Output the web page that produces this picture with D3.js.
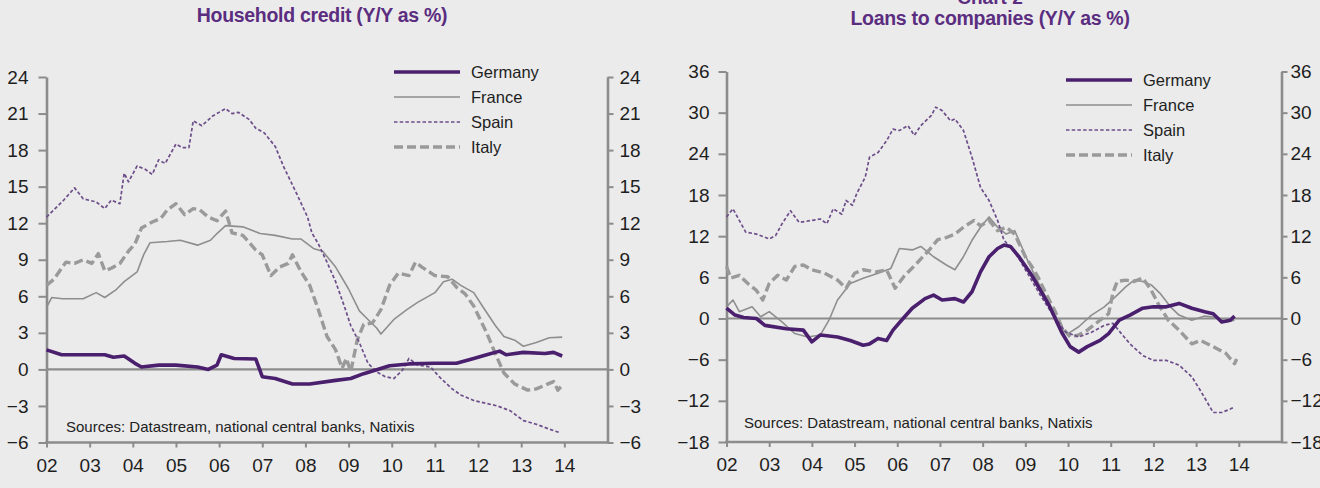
<!DOCTYPE html>
<html>
<head>
<meta charset="utf-8">
<script src="https://cdn.jsdelivr.net/npm/d3@7"></script>
<style>
  html, body { margin: 0; padding: 0; background: #ebebeb; }
  svg { display: block; font-family: "Liberation Sans", Arial, sans-serif; }
</style>
</head>
<body>
<div id="chart"></div>
<script>
// ---- data ----
let countries = ['Germany', 'France', 'Spain', 'Italy']
let yearTicks = d3.range(2002, 2015)
let hhTicks = d3.range(-6, 25, 3)
let coTicks = d3.range(-18, 37, 6)

// Household credit, Y/Y %  [year, value]
let hhGermany = [[2002.0,1.6],[2002.35,1.2],[2003.0,1.2],[2003.35,1.2],[2003.55,1.0],[2003.8,1.1],[2004.05,0.5],[2004.2,0.2],[2004.6,0.35],[2005.0,0.35],[2005.5,0.2],[2005.75,0.0],[2005.95,0.35],[2006.05,1.2],[2006.35,0.9],[2006.85,0.85],[2007.0,-0.6],[2007.3,-0.75],[2007.7,-1.2],[2008.1,-1.2],[2008.7,-0.9],[2009.05,-0.75],[2009.35,-0.35],[2009.95,0.3],[2010.4,0.45],[2011.0,0.5],[2011.5,0.5],[2011.9,0.9],[2012.2,1.2],[2012.5,1.5],[2012.65,1.2],[2013.05,1.4],[2013.55,1.3],[2013.75,1.4],[2013.95,1.1]]
let hhFrance = [[2002.0,5.1],[2002.12,5.9],[2002.37,5.8],[2002.85,5.8],[2003.15,6.3],[2003.35,5.9],[2003.6,6.5],[2003.8,7.2],[2004.1,8.0],[2004.25,9.4],[2004.4,10.4],[2004.8,10.5],[2005.1,10.6],[2005.5,10.2],[2005.8,10.6],[2005.95,11.15],[2006.15,11.8],[2006.55,11.7],[2006.95,11.15],[2007.3,11.0],[2007.7,10.7],[2007.9,10.7],[2008.2,9.9],[2008.4,9.7],[2008.7,8.4],[2009.0,6.6],[2009.25,4.8],[2009.45,4.1],[2009.65,3.4],[2009.75,2.9],[2010.05,4.1],[2010.35,4.9],[2010.6,5.5],[2011.0,6.3],[2011.2,7.2],[2011.4,7.4],[2011.6,6.9],[2011.9,6.3],[2012.1,5.2],[2012.4,3.6],[2012.6,2.7],[2012.85,2.4],[2013.05,1.9],[2013.35,2.2],[2013.65,2.6],[2013.95,2.65]]
let hhSpain = [[2002.0,12.5],[2002.4,13.9],[2002.65,14.9],[2002.85,14.0],[2003.15,13.75],[2003.35,13.2],[2003.5,13.9],[2003.7,13.6],[2003.8,16.1],[2003.9,15.4],[2004.1,16.7],[2004.3,16.4],[2004.45,16.0],[2004.6,17.2],[2004.75,16.9],[2005.0,18.5],[2005.15,18.2],[2005.3,18.2],[2005.4,20.4],[2005.6,20.0],[2005.85,20.8],[2006.15,21.4],[2006.3,21.0],[2006.45,21.1],[2006.7,20.5],[2006.85,19.8],[2007.05,19.4],[2007.3,18.3],[2007.5,16.6],[2007.8,14.4],[2008.05,12.5],[2008.15,11.2],[2008.3,10.3],[2008.5,8.8],[2008.7,7.2],[2008.9,5.2],[2009.05,3.6],[2009.25,2.2],[2009.45,0.5],[2009.65,-0.2],[2009.85,-0.6],[2010.05,-0.75],[2010.25,-0.05],[2010.4,0.9],[2010.6,0.35],[2010.9,0.2],[2011.1,-0.6],[2011.4,-1.6],[2011.6,-2.1],[2011.9,-2.55],[2012.2,-2.8],[2012.45,-3.0],[2012.75,-3.4],[2013.05,-4.2],[2013.35,-4.5],[2013.65,-4.9],[2013.9,-5.2]]
let hhItaly = [[2002.0,6.9],[2002.17,7.4],[2002.45,8.8],[2002.65,8.7],[2002.85,9.0],[2003.05,8.7],[2003.2,9.5],[2003.35,8.1],[2003.5,8.3],[2003.7,8.7],[2003.9,9.7],[2004.05,10.3],[2004.2,11.6],[2004.45,12.1],[2004.65,12.4],[2004.8,13.1],[2005.0,13.6],[2005.2,12.7],[2005.4,13.2],[2005.55,13.1],[2005.75,12.5],[2005.95,12.2],[2006.15,13.0],[2006.3,11.2],[2006.55,11.0],[2006.85,9.8],[2007.0,9.4],[2007.2,7.7],[2007.4,8.4],[2007.6,8.7],[2007.7,9.4],[2007.9,8.0],[2008.1,6.9],[2008.3,4.9],[2008.5,2.7],[2008.7,1.6],[2008.85,0.1],[2008.95,0.9],[2009.05,-0.2],[2009.2,2.4],[2009.35,3.7],[2009.55,3.8],[2009.75,4.9],[2009.95,6.9],[2010.15,7.9],[2010.4,7.7],[2010.55,8.8],[2010.7,8.4],[2011.0,7.7],[2011.3,7.6],[2011.5,6.75],[2011.7,6.2],[2011.9,5.2],[2012.2,3.0],[2012.4,1.3],[2012.6,-0.3],[2012.85,-1.2],[2013.15,-1.7],[2013.35,-1.6],[2013.55,-1.3],[2013.75,-1.0],[2013.85,-1.7],[2013.95,-1.3]]

// Loans to companies, Y/Y %  [year, value]
let coGermany = [[2002.0,1.5],[2002.2,0.5],[2002.4,0.15],[2002.7,0.0],[2002.9,-1.0],[2003.4,-1.5],[2003.8,-1.7],[2004.0,-3.4],[2004.2,-2.4],[2004.6,-2.7],[2004.9,-3.2],[2005.2,-3.9],[2005.35,-3.7],[2005.55,-2.9],[2005.75,-3.2],[2005.9,-1.7],[2006.1,-0.25],[2006.35,1.5],[2006.65,2.9],[2006.85,3.4],[2007.05,2.7],[2007.35,2.9],[2007.55,2.4],[2007.75,3.9],[2007.95,6.8],[2008.15,9.0],[2008.35,10.2],[2008.5,10.7],[2008.65,10.5],[2008.85,9.0],[2009.15,6.3],[2009.55,2.0],[2009.85,-2.0],[2010.05,-4.1],[2010.25,-4.9],[2010.45,-4.1],[2010.75,-3.2],[2010.95,-2.2],[2011.2,-0.25],[2011.45,0.5],[2011.75,1.5],[2012.0,1.7],[2012.3,1.7],[2012.6,2.2],[2012.9,1.5],[2013.2,1.0],[2013.4,0.7],[2013.6,-0.5],[2013.8,-0.25],[2013.9,0.35]]
let coFrance = [[2002.0,1.7],[2002.15,2.7],[2002.3,1.0],[2002.6,1.7],[2002.8,0.25],[2003.0,1.0],[2003.3,-0.5],[2003.6,-2.2],[2003.9,-2.7],[2004.2,-2.4],[2004.4,-0.25],[2004.6,2.7],[2004.9,5.1],[2005.2,5.85],[2005.55,6.6],[2005.85,7.3],[2006.05,10.2],[2006.35,10.0],[2006.55,10.5],[2006.85,9.0],[2007.15,7.8],[2007.35,7.1],[2007.55,9.0],[2007.75,11.4],[2007.95,13.3],[2008.15,14.8],[2008.35,13.3],[2008.55,12.3],[2008.75,12.8],[2008.85,11.4],[2009.05,8.5],[2009.35,4.6],[2009.65,1.2],[2009.85,-1.5],[2010.0,-2.2],[2010.25,-1.2],[2010.55,0.5],[2010.85,1.7],[2011.15,3.4],[2011.35,4.6],[2011.55,5.6],[2011.75,5.4],[2011.95,4.9],[2012.15,3.7],[2012.4,1.7],[2012.6,0.5],[2012.9,-0.25],[2013.2,0.35],[2013.5,0.15],[2013.7,-0.5],[2013.9,-0.25]]
let coSpain = [[2002.0,14.8],[2002.15,16.0],[2002.3,14.3],[2002.45,12.6],[2002.7,12.3],[2003.0,11.6],[2003.15,12.1],[2003.3,13.8],[2003.5,15.7],[2003.7,14.0],[2004.0,14.3],[2004.2,14.5],[2004.35,13.8],[2004.5,16.0],[2004.7,15.2],[2004.8,17.2],[2004.95,16.5],[2005.05,18.2],[2005.25,20.6],[2005.35,23.5],[2005.55,24.2],[2005.75,25.9],[2005.9,27.6],[2006.05,27.4],[2006.25,28.1],[2006.4,26.7],[2006.55,28.1],[2006.8,29.6],[2006.9,30.8],[2007.05,30.3],[2007.25,28.8],[2007.35,29.1],[2007.55,27.4],[2007.75,23.5],[2007.95,19.1],[2008.15,17.2],[2008.35,14.3],[2008.5,11.4],[2008.75,9.8],[2009.05,6.6],[2009.35,3.4],[2009.65,0.5],[2009.95,-2.0],[2010.25,-2.7],[2010.55,-2.0],[2010.85,-1.0],[2011.05,-0.7],[2011.25,-2.2],[2011.45,-3.7],[2011.75,-5.4],[2012.0,-6.1],[2012.3,-6.1],[2012.6,-6.8],[2012.9,-8.5],[2013.1,-10.5],[2013.4,-13.7],[2013.6,-13.7],[2013.8,-13.2],[2013.9,-12.9]]
let coItaly = [[2002.0,7.6],[2002.1,5.9],[2002.3,6.3],[2002.5,5.1],[2002.7,4.1],[2002.85,2.7],[2003.0,5.1],[2003.2,6.3],[2003.4,5.6],[2003.6,7.6],[2003.8,7.8],[2004.0,7.1],[2004.3,6.6],[2004.6,5.6],[2004.8,4.4],[2005.0,6.6],[2005.2,7.1],[2005.5,6.8],[2005.75,7.1],[2005.95,4.4],[2006.15,6.1],[2006.45,8.0],[2006.75,10.0],[2006.95,11.5],[2007.15,11.8],[2007.35,12.3],[2007.55,13.3],[2007.8,14.3],[2007.95,13.5],[2008.15,14.3],[2008.35,12.8],[2008.55,13.3],[2008.75,12.3],[2009.0,9.0],[2009.15,7.6],[2009.3,6.0],[2009.5,3.4],[2009.7,1.0],[2009.85,-1.2],[2010.05,-2.7],[2010.25,-2.4],[2010.45,-1.7],[2010.75,-0.25],[2010.95,0.7],[2011.05,3.7],[2011.15,5.4],[2011.35,5.6],[2011.55,5.4],[2011.75,5.9],[2011.95,4.1],[2012.15,1.7],[2012.35,-0.25],[2012.6,-1.7],[2012.9,-3.7],[2013.1,-3.2],[2013.4,-4.1],[2013.7,-5.1],[2013.9,-6.6],[2013.95,-5.9]]

// ---- styles ----
let styles = {
  Germany: { stroke: '#4a1f6e', width: 3.6, dash: null },
  France: { stroke: '#8e8e8e', width: 1.6, dash: null },
  Spain: { stroke: '#6e4e8a', width: 1.7, dash: '3.5,2.2' },
  Italy: { stroke: '#9a9a9a', width: 3.4, dash: '9,4' }
}
let axisColor = '#8c8c8c'
let titleColor = '#5b2d80'

let width = 1320, height = 488
let svg = d3.select('#chart').append('svg')
  .attr('width', width)
  .attr('height', height)

svg.append('rect').attr('width', width).attr('height', height).attr('fill', '#ebebeb')

let drawPanel = (cfg) => {
  let x = d3.scaleLinear().domain([2002, 2015]).range([cfg.left, cfg.right])
  let y = d3.scaleLinear().domain(cfg.domain).range([cfg.bottom, cfg.top])
  let g = svg.append('g')

  // titles
  if (cfg.chartNo) {
    g.append('text')
      .attr('x', cfg.titleX).attr('y', cfg.titleY - 21)
      .attr('text-anchor', 'middle')
      .attr('font-size', 19).attr('font-weight', 'bold')
      .attr('fill', titleColor)
      .text(cfg.chartNo)
  }
  g.append('text')
    .attr('x', cfg.titleX).attr('y', cfg.titleY)
    .attr('text-anchor', 'middle')
    .attr('font-size', 19.5).attr('font-weight', 'bold')
    .attr('letter-spacing', -0.3)
    .attr('fill', titleColor)
    .text(cfg.title)

  // zero line
  g.append('line')
    .attr('x1', cfg.left).attr('x2', cfg.right)
    .attr('y1', y(0)).attr('y2', y(0))
    .attr('stroke', axisColor).attr('stroke-width', 2.2)

  // axes
  let yl = g.append('g')
    .attr('transform', `translate(${cfg.left},0)`)
    .call(d3.axisLeft(y).tickValues(cfg.ticks).tickSize(8).tickSizeOuter(0).tickPadding(cfg.padL))
  let yr = g.append('g')
    .attr('transform', `translate(${cfg.right},0)`)
    .call(d3.axisRight(y).tickValues(cfg.ticks).tickSize(6).tickSizeOuter(0).tickPadding(cfg.padR))
  let xa = g.append('g')
    .attr('transform', `translate(0,${cfg.bottom})`)
    .call(d3.axisBottom(x).tickValues(yearTicks).tickSize(5).tickSizeOuter(0).tickPadding(11)
      .tickFormat(d => d3.format('02d')(d % 100)))

  ;[yl, yr, xa].forEach(a => {
    a.select('.domain').attr('stroke', axisColor).attr('stroke-width', 2.6)
    a.selectAll('.tick line').attr('stroke', axisColor).attr('stroke-width', 2)
    a.selectAll('text').attr('font-size', 19).attr('fill', '#1e1e1e')
      .attr('font-family', '"Liberation Sans", Arial, sans-serif')
  })
  // draw the bottom axis across the full plot
  xa.select('.domain').attr('d', `M${cfg.left - 1.3},0H${cfg.right + 1.3}`)

  // sources
  g.append('text')
    .attr('x', cfg.srcX).attr('y', cfg.srcY)
    .attr('font-size', 15)
    .attr('fill', '#222')
    .text('Sources: Datastream, national central banks, Natixis')

  // lines
  let line = d3.line().x(d => x(d[0])).y(d => y(d[1]))
  let order = ['France', 'Italy', 'Spain', 'Germany']
  order.forEach(name => {
    let s = styles[name]
    g.append('path')
      .datum(cfg.series[name])
      .attr('fill', 'none')
      .attr('stroke', s.stroke)
      .attr('stroke-width', s.width)
      .attr('stroke-dasharray', s.dash)
      .attr('stroke-linejoin', 'round')
      .attr('d', line)
  })

  // legend
  let leg = g.append('g').attr('transform', `translate(${cfg.legX},${cfg.legY})`)
  let rows = leg.selectAll('g').data(countries).enter().append('g')
    .attr('transform', (d, i) => `translate(0,${i * cfg.legStep})`)
  rows.append('line')
    .attr('x1', 0).attr('x2', 66)
    .attr('stroke', d => styles[d].stroke)
    .attr('stroke-width', d => styles[d].width)
    .attr('stroke-dasharray', d => styles[d].dash)
  rows.append('text')
    .attr('x', 77).attr('dy', '0.35em')
    .attr('font-size', 16.5)
    .attr('fill', '#1e1e1e')
    .text(d => d)
}

drawPanel({
  title: 'Household credit (Y/Y as %)',
  titleX: 322, titleY: 22,
  left: 46.5, right: 607.5, top: 77, bottom: 442.5,
  domain: [-6, 24], ticks: hhTicks,
  padL: 10, padR: 6,
  srcX: 66, srcY: 432,
  legX: 394, legY: 72, legStep: 25,
  series: { Germany: hhGermany, France: hhFrance, Spain: hhSpain, Italy: hhItaly }
})

drawPanel({
  chartNo: 'Chart 2',
  title: 'Loans to companies (Y/Y as %)',
  titleX: 990, titleY: 25,
  left: 726.5, right: 1281.5, top: 71.5, bottom: 442,
  domain: [-18, 36], ticks: coTicks,
  padL: 9, padR: 3,
  srcX: 744, srcY: 428,
  legX: 1066, legY: 80, legStep: 25,
  series: { Germany: coGermany, France: coFrance, Spain: coSpain, Italy: coItaly }
})
</script>
</body>
</html>
